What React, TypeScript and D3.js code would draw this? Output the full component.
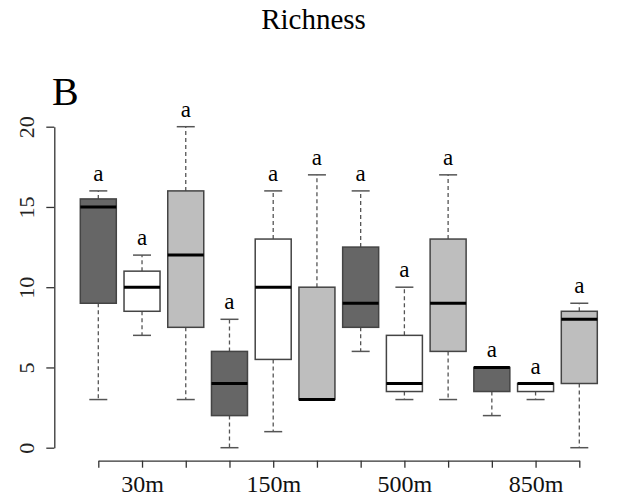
import React, { useEffect, useRef } from 'react';
import * as d3 from 'd3';

// distances and the box statistics for each sample (3 boxes per distance)
const groups = ['30m', '150m', '500m', '850m'];
const mins = [3, 7, 3, 0, 1, 3, 6, 3, 3, 2, 3, 0];
const q1s = [9, 8.5, 7.5, 2, 5.5, 3, 7.5, 3.5, 6, 3.5, 3.5, 4];
const medians = [15, 10, 12, 4, 10, 3, 9, 4, 9, 5, 4, 8];
const q3s = [15.5, 11, 16, 6, 13, 10, 12.5, 7, 13, 5, 4, 8.5];
const maxs = [16, 12, 20, 8, 16, 17, 16, 10, 17, 5, 4, 9];
const letters = ['a', 'a', 'a', 'a', 'a', 'a', 'a', 'a', 'a', 'a', 'a', 'a'];
const fills = ['#666666', '#ffffff', '#bebebe'];
const yTicks = [0, 5, 10, 15, 20];

const W = 625;
const H = 502;
const FONT = '"Liberation Serif", "Times New Roman", serif';

const App = () => {
  const ref = useRef<SVGSVGElement>(null);

  useEffect(() => {
    const svg = d3.select(ref.current);
    svg.selectAll('*').remove();

    const n = medians.length;
    const x = d3.scaleLinear().domain([0, n - 1]).range([98.3, 579.3]);
    const y = d3.scaleLinear().domain([0, 20]).range([447.7, 126.7]);
    const boxW = 36;
    const capW = 18;

    // Title
    svg.append('text')
      .attr('x', 313.5)
      .attr('y', 29.3)
      .attr('text-anchor', 'middle')
      .style('font-family', FONT)
      .style('font-size', '29px')
      .text('Richness');

    // panel letter
    svg.append('text')
      .attr('x', 52)
      .attr('y', 105)
      .style('font-family', FONT)
      .style('font-size', '40px')
      .text('B');

    const g = svg.append('g');

    d3.range(n).forEach(i => {
      const cx = x(i);
      const box = g.append('g');
      // whiskers
      box.append('line')
        .attr('x1', cx).attr('x2', cx)
        .attr('y1', y(q3s[i])).attr('y2', y(maxs[i]))
        .attr('stroke', '#555').attr('stroke-width', 1.3)
        .attr('stroke-dasharray', '4,3');
      box.append('line')
        .attr('x1', cx).attr('x2', cx)
        .attr('y1', y(q1s[i])).attr('y2', y(mins[i]))
        .attr('stroke', '#555').attr('stroke-width', 1.3)
        .attr('stroke-dasharray', '4,3');
      // staples
      [mins[i], maxs[i]].forEach(v => {
        box.append('line')
          .attr('x1', cx - capW / 2).attr('x2', cx + capW / 2)
          .attr('y1', y(v)).attr('y2', y(v))
          .attr('stroke', '#555').attr('stroke-width', 1.5);
      });
      // box
      box.append('rect')
        .attr('x', cx - boxW / 2)
        .attr('y', y(q3s[i]))
        .attr('width', boxW)
        .attr('height', Math.max(y(q1s[i]) - y(q3s[i]), 0))
        .attr('fill', fills[i % 3])
        .attr('stroke', '#444')
        .attr('stroke-width', 1.5);
      // median
      box.append('line')
        .attr('x1', cx - boxW / 2).attr('x2', cx + boxW / 2)
        .attr('y1', y(medians[i])).attr('y2', y(medians[i]))
        .attr('stroke', '#000').attr('stroke-width', 3);
      // significance letter
      box.append('text')
        .attr('x', cx)
        .attr('y', y(maxs[i]) - 10)
        .attr('text-anchor', 'middle')
        .style('font-family', FONT)
        .style('font-size', '23px')
        .text(letters[i]);
    });

    // Y axis
    const yAxis = svg.append('g')
      .attr('transform', 'translate(54.3,0)')
      .call(d3.axisLeft(y).tickValues(yTicks).tickSize(8).tickSizeOuter(0));
    yAxis.selectAll('path, line').attr('stroke', '#333').attr('stroke-width', 1.3);
    yAxis.selectAll('text')
      .attr('transform', 'rotate(-90)')
      .attr('x', 0)
      .attr('y', -20.3)
      .attr('dy', 0)
      .attr('text-anchor', 'middle')
      .attr('fill', '#222')
      .style('font-family', FONT)
      .style('font-size', '22px');

    // X axis
    const xAxis = svg.append('g')
      .attr('transform', 'translate(0,460.7)')
      .call(d3.axisBottom(x)
        .tickValues(d3.range(n))
        .tickSize(7)
        .tickSizeOuter(0)
        .tickFormat(i => (+i % 3 === 1 ? groups[Math.floor(+i / 3)] : '')));
    xAxis.selectAll('path, line').attr('stroke', '#333').attr('stroke-width', 1.3);
    xAxis.selectAll('text')
      .attr('y', 31.6)
      .attr('dy', 0)
      .attr('fill', '#111')
      .style('font-family', FONT)
      .style('font-size', '24px');
  }, []);

  return (
    <svg
      ref={ref}
      width={W}
      height={H}
      style={{ position: 'absolute', left: 0, top: 0, background: '#fff' }}
    />
  );
};

export default App;
